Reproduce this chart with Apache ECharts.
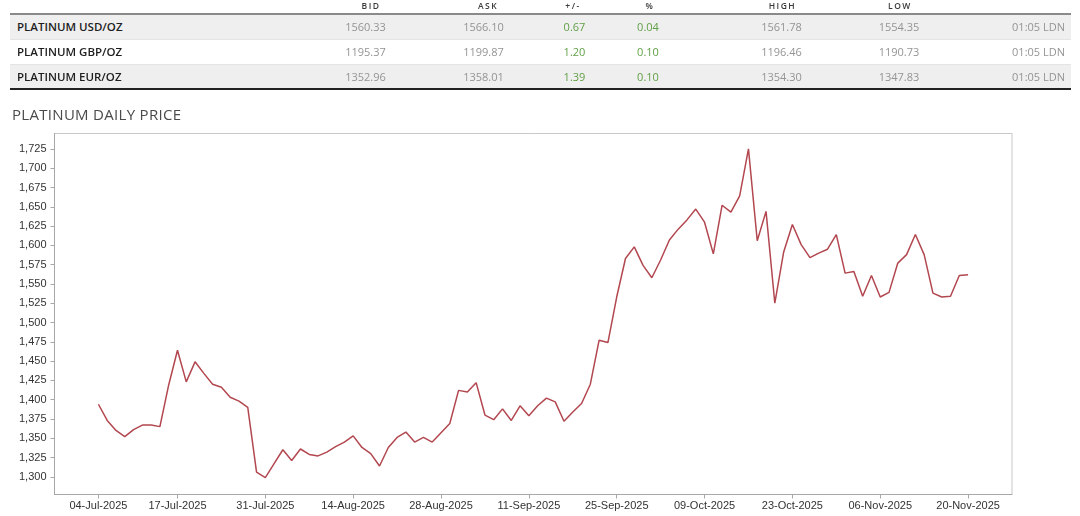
<!DOCTYPE html>
<html>
<head>
<meta charset="utf-8">
<script src="https://cdn.jsdelivr.net/npm/echarts@6/dist/echarts.min.js"></script>
<style>
  html, body { margin: 0; padding: 0; background: #fff; }
  body { width: 1080px; height: 516px; position: relative; overflow: hidden; font-family: "Open Sans", sans-serif; }
  #chart { position: absolute; left: 0; top: 0; width: 1080px; height: 516px; }
  .cell { position: absolute; white-space: nowrap; z-index: 2; }
  .band { position: absolute; left: 10px; width: 1061px; z-index: 1; }
  #title { position: absolute; left: 12px; top: 104px; font-size: 15px; color: #4a4a4a; z-index: 2; letter-spacing: 0.3px; }
</style>
</head>
<body>
<div id="chart"></div>
<div id="table"></div>
<div id="title">PLATINUM DAILY PRICE</div>
<script>
// ---------- table data ----------
const tableHeaders = ['BID', 'ASK', '+/-', '%', 'HIGH', 'LOW'];
const rowNames = ['PLATINUM USD/OZ', 'PLATINUM GBP/OZ', 'PLATINUM EUR/OZ'];
const bidValues = ['1560.33', '1195.37', '1352.96'];
const askValues = ['1566.10', '1199.87', '1358.01'];
const changeValues = ['0.67', '1.20', '1.39'];
const pctValues = ['0.04', '0.10', '0.10'];
const highValues = ['1561.78', '1196.46', '1354.30'];
const lowValues = ['1554.35', '1190.73', '1347.83'];
const timeValues = ['01:05 LDN', '01:05 LDN', '01:05 LDN'];

// ---------- chart data ----------
const startDate = '2025-07-04';
const endDate = '2025-11-20';
const xTickLabels = ['04-Jul-2025', '17-Jul-2025', '31-Jul-2025', '14-Aug-2025', '28-Aug-2025', '11-Sep-2025',
  '25-Sep-2025', '09-Oct-2025', '23-Oct-2025', '06-Nov-2025', '20-Nov-2025'];
const yTickLabels = [1300, 1325, 1350, 1375, 1400, 1425, 1450, 1475, 1500, 1525, 1550, 1575, 1600, 1625, 1650, 1675, 1700, 1725];
const prices = [
  1394, 1373, 1360, 1352, 1361, 1367, 1367, 1365, 1419, 1464,
  1423, 1449, 1434, 1420, 1416, 1403, 1398, 1390, 1306, 1299,
  1317, 1335, 1321, 1336, 1329, 1327, 1332, 1339, 1345, 1353,
  1338, 1330, 1314, 1338, 1351, 1358, 1345, 1351, 1345, 1357,
  1369, 1412, 1410, 1422, 1380, 1374, 1388, 1373, 1392, 1379,
  1392, 1402, 1397, 1372, 1384, 1395, 1420, 1477, 1474, 1533,
  1583, 1598, 1574, 1558, 1581, 1607, 1621, 1633, 1647, 1630,
  1589, 1652, 1643, 1664, 1725, 1606, 1644, 1525, 1591, 1627,
  1601, 1584, 1590, 1595, 1614, 1564, 1566, 1534, 1561, 1533,
  1539, 1577, 1588, 1614, 1588, 1538, 1533, 1534, 1561, 1562
];

// weekday dates (category labels)
const MONTHS = ['Jan','Feb','Mar','Apr','May','Jun','Jul','Aug','Sep','Oct','Nov','Dec'];
const dates = [];
for (let d = new Date(startDate + 'T12:00:00Z'); d <= new Date(endDate + 'T12:00:00Z'); d.setUTCDate(d.getUTCDate() + 1)) {
  const wd = d.getUTCDay();
  if (wd === 0 || wd === 6) continue;
  dates.push(String(d.getUTCDate()).padStart(2, '0') + '-' + MONTHS[d.getUTCMonth()] + '-' + d.getUTCFullYear());
}
const xTickIdx = xTickLabels.map(l => dates.indexOf(l));

// ---------- build table ----------
(function buildTable() {
  const t = document.getElementById('table');
  function add(html, style, cls) {
    const el = document.createElement('div');
    el.className = cls || 'cell';
    el.innerHTML = html;
    Object.assign(el.style, style);
    t.appendChild(el);
    return el;
  }
  const rowTops = [15, 40, 65];
  const rowH = 24;
  add('', { top: '13px', height: '2px', background: '#8a8a8a' }, 'band');
  rowTops.forEach((top, i) => {
    add('', { top: top + 'px', height: rowH + 'px', background: i % 2 === 0 ? '#efefef' : '#fff' }, 'band');
    if (i > 0) add('', { top: (top - 1) + 'px', height: '1px', background: '#e4e4e4' }, 'band');
  });
  add('', { top: '88px', height: '2px', background: '#222' }, 'band');

  const headerCenters = [371, 488, 573, 650, 782.5, 900];
  tableHeaders.forEach((h, i) => {
    add(h, { left: (headerCenters[i] - 40) + 'px', width: '80px', textAlign: 'center', top: '-1px',
      fontSize: '8.5px', fontWeight: '600', letterSpacing: '1.5px', color: '#3a3a3a', lineHeight: '14px' });
  });

  const cols = [
    { vals: bidValues, center: 365.5, color: '#949494' },
    { vals: askValues, center: 483.5, color: '#949494' },
    { vals: changeValues, center: 574.5, color: '#5f9f45' },
    { vals: pctValues, center: 648, color: '#5f9f45' },
    { vals: highValues, center: 781.5, color: '#949494' },
    { vals: lowValues, center: 899, color: '#949494' },
    { vals: timeValues, right: 1065, color: '#949494' }
  ];
  rowTops.forEach((top, r) => {
    add(rowNames[r], { left: '17px', top: top + 'px', lineHeight: rowH + 'px', fontSize: '11.5px',
      fontWeight: '600', color: '#1e1e1e' });
    cols.forEach(c => {
      const st = { top: top + 'px', lineHeight: rowH + 'px', fontSize: '11px', color: c.color, fontWeight: '400' };
      if (c.right !== undefined) { st.right = (1080 - c.right) + 'px'; st.textAlign = 'right'; }
      else { st.left = (c.center - 50) + 'px'; st.width = '100px'; st.textAlign = 'center'; }
      add(c.vals[r], st);
    });
  });
})();

// ---------- chart ----------
const chart = echarts.init(document.getElementById('chart'), null, { renderer: 'canvas' });
const axisFont = { fontFamily: '"Liberation Sans", Arial, sans-serif', fontSize: 11, color: '#333' };
chart.setOption({
  animation: false,
  grid: { left: 54.5, top: 133.5, right: 68, bottom: 21.5, show: true, borderColor: '#c8c8c8', borderWidth: 1 },
  xAxis: {
    type: 'value', min: -5, max: 104,
    splitLine: { show: false },
    axisLine: { show: true, onZero: false, lineStyle: { color: '#a8a8a8', width: 1 } },
    axisTick: { show: true, length: 4, lineStyle: { color: '#a8a8a8' }, customValues: xTickIdx },
    axisLabel: Object.assign({ margin: 6, customValues: xTickIdx, formatter: v => dates[Math.round(v)] || '' }, axisFont)
  },
  yAxis: {
    type: 'value', min: 1277, max: 1745,
    splitLine: { show: false },
    axisLine: { show: true, onZero: false, lineStyle: { color: '#a8a8a8', width: 1 } },
    axisTick: { show: true, length: 4, lineStyle: { color: '#a8a8a8' }, customValues: yTickLabels },
    axisLabel: Object.assign({ margin: 8, customValues: yTickLabels,
      formatter: v => Number(v).toLocaleString('en-US') }, axisFont)
  },
  series: [{
    type: 'line',
    data: prices.map((v, i) => [i, v]),
    showSymbol: false,
    lineStyle: { color: '#b2474f', width: 1.5 },
    itemStyle: { color: '#b2474f' }
  }]
});
</script>
</body>
</html>
